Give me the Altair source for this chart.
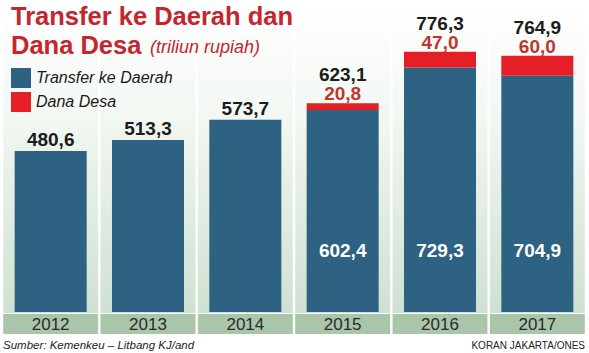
import altair as alt
import pandas as pd

# ---------------- data ----------------
years = ["2012", "2013", "2014", "2015", "2016", "2017"]
transfer = [480.6, 513.3, 573.7, 602.4, 729.3, 704.9]
dana_desa = [0.0, 0.0, 0.0, 20.8, 47.0, 60.0]
totals = [480.6, 513.3, 573.7, 623.1, 776.3, 764.9]
series = ["Transfer ke Daerah", "Dana Desa"]

title_line1 = "Transfer ke Daerah dan"
title_line2 = "Dana Desa"
title_unit = "(triliun rupiah)"
source_text = "Sumber: Kemenkeu – Litbang KJ/and"
credit_text = "KORAN JAKARTA/ONES"

# ---------------- styles ----------------
BLUE = "#2e6283"
RED = "#e41f26"
TITLE_RED = "#c4262e"
LABEL_RED = "#c0362f"
SANS = "Liberation Sans, Arial"

bars_df = pd.DataFrame({
    "year": years * 2,
    "series": [series[0]] * len(years) + [series[1]] * len(years),
    "value": transfer + dana_desa,
    "order": [0] * len(years) + [1] * len(years),
})
bars_df = bars_df[bars_df["value"] > 0]

tot_df = pd.DataFrame({"year": years, "total": totals, "dana": dana_desa, "transfer": transfer})

XS = alt.Scale(domain=years, range=[2, 586], paddingInner=0.26, paddingOuter=0.13)
XB = alt.Scale(domain=years, range=[2, 586], paddingInner=0.025, paddingOuter=0.0125)
YS = alt.Scale(domain=[0, 931], range=[312, 0])

grad = alt.Gradient(
    gradient="linear",
    stops=[
        alt.GradientStop(color="#ffffff", offset=0),
        alt.GradientStop(color="#f3f8f3", offset=0.35),
        alt.GradientStop(color="#cfe1d2", offset=1),
    ],
    x1=0, x2=0, y1=0, y2=1,
)

bg = alt.Chart(tot_df).mark_rect(fill=grad).encode(
    x=alt.X("year:N", scale=XB, axis=None),
    y=alt.value(0),
    y2=alt.value(313),
)

year_band = alt.Chart(tot_df).mark_rect(color="#a9c6ab").encode(
    x=alt.X("year:N", scale=XB, axis=None),
    y=alt.value(314),
    y2=alt.value(334),
)

year_text = alt.Chart(tot_df).mark_text(
    font=SANS, fontSize=17, color="#2b2b2b", baseline="middle"
).encode(
    x=alt.X("year:N", scale=XB, axis=None),
    y=alt.value(325),
    text="year:N",
)

bars = alt.Chart(bars_df).mark_bar().encode(
    x=alt.X("year:N", scale=XS, axis=None),
    y=alt.Y("value:Q", stack="zero", scale=YS, axis=None),
    color=alt.Color(
        "series:N",
        scale=alt.Scale(domain=series, range=[BLUE, RED]),
        legend=alt.Legend(
            title=None, orient="none", legendX=11, legendY=68,
            symbolType="square", symbolSize=400, symbolStrokeWidth=0,
            symbolOpacity=1, labelFont=SANS, labelFontStyle="italic",
            labelFontSize=16, labelColor="#1a1a1a", labelOffset=5,
            rowPadding=4, padding=0, labelLimit=300,
        ),
    ),
    order=alt.Order("order:Q"),
)

fmt = "replace(format(datum.v, '.1f'), '.', ',')"

tot_plain = alt.Chart(tot_df).transform_filter("datum.dana == 0").transform_calculate(
    v="datum.total"
).transform_calculate(lbl=fmt).mark_text(
    font=SANS, fontSize=19, fontWeight="bold", color="#1c1c1c", baseline="alphabetic", dy=-5
).encode(
    x=alt.X("year:N", scale=XS, axis=None),
    y=alt.Y("total:Q", scale=YS, axis=None),
    text="lbl:N",
)

tot_high = alt.Chart(tot_df).transform_filter("datum.dana > 0").transform_calculate(
    v="datum.total"
).transform_calculate(lbl=fmt).mark_text(
    font=SANS, fontSize=19, fontWeight="bold", color="#1c1c1c", baseline="alphabetic", dy=-22
).encode(
    x=alt.X("year:N", scale=XS, axis=None),
    y=alt.Y("total:Q", scale=YS, axis=None),
    text="lbl:N",
)

dana_lbl = alt.Chart(tot_df).transform_filter("datum.dana > 0").transform_calculate(
    v="datum.dana"
).transform_calculate(lbl=fmt).mark_text(
    font=SANS, fontSize=19, fontWeight="bold", color=LABEL_RED, baseline="alphabetic", dy=-3
).encode(
    x=alt.X("year:N", scale=XS, axis=None),
    y=alt.Y("total:Q", scale=YS, axis=None),
    text="lbl:N",
)

inner_lbl = alt.Chart(tot_df).transform_filter("datum.dana > 0").transform_calculate(
    v="datum.transfer"
).transform_calculate(lbl=fmt).mark_text(
    font=SANS, fontSize=19, fontWeight="bold", color="white", baseline="middle"
).encode(
    x=alt.X("year:N", scale=XS, axis=None),
    y=alt.value(251),
    text="lbl:N",
)

texts_df = pd.DataFrame({"k": [0, 1, 2, 3, 4],
                         "t": [title_line1, title_line2, title_unit, source_text, credit_text]})

def txt(i, **kw):
    return alt.Chart(texts_df).transform_filter(f"datum.k == {i}").mark_text(**kw).encode(text="t:N")

t1 = txt(0, font=SANS, fontSize=25.5, fontWeight="bold", color=TITLE_RED, align="left",
         baseline="alphabetic", x=11, y=25)
t2 = txt(1, font=SANS, fontSize=25.5, fontWeight="bold", color=TITLE_RED, align="left",
         baseline="alphabetic", x=11, y=54)
t3 = txt(2, font=SANS, fontSize=18, fontStyle="italic", color=TITLE_RED, align="left",
         baseline="alphabetic", x=150, y=53)
t4 = txt(3, font=SANS, fontSize=11.5, fontStyle="italic", color="#222222", align="left",
         baseline="alphabetic", x=3, y=349)
t5 = txt(4, font=SANS, fontSize=10, color="#222222", align="right",
         baseline="alphabetic", x=585, y=349)

chart = alt.layer(
    bg, year_band, year_text, bars, tot_plain, tot_high, dana_lbl, inner_lbl,
    t1, t2, t3, t4, t5,
).resolve_scale(x="independent").properties(
    width=589, height=353,
    autosize=alt.AutoSizeParams(type="none"),
    padding=0,
    background="white",
).configure_view(strokeWidth=0)

chart.save("out.html", embed_options={"renderer": "svg", "actions": False})
